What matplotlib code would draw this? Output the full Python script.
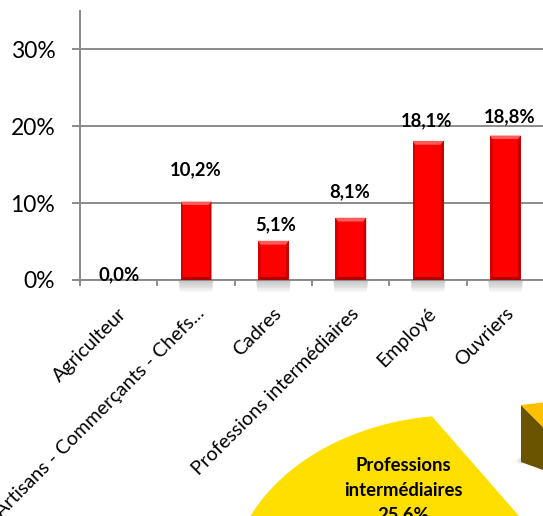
import matplotlib
matplotlib.use("Agg")
import matplotlib.pyplot as plt
from matplotlib.patches import Polygon, Ellipse
from matplotlib.transforms import ScaledTranslation
import numpy as np

# ---------------- data ----------------
categories = ["Agriculteur", "Artisans - Commerçants - Chefs...", "Cadres",
              "Professions intermédiaires", "Employé", "Ouvriers"]
values = [0.0, 10.2, 5.1, 8.1, 18.1, 18.8]
value_labels = ["0,0%", "10,2%", "5,1%", "8,1%", "18,1%", "18,8%"]
y_ticks = [0, 10, 20, 30]
y_tick_labels = ["0%", "10%", "20%", "30%"]
pie_label = "Professions\nintermédiaires\n25,6%"

# ---------------- layout / style ----------------
label_lift_pt = [3.6, 22.8, 11.3, 18.9, 14.6, 13.4]
label_dx_pt = [0, 0, 1.4, -0.7, -0.7, 2.9]

plt.rcParams['font.family'] = ['Lato', 'DejaVu Sans']

W, H = 543, 516
fig = plt.figure(figsize=(W / 100, H / 100), dpi=100)
fig.patch.set_facecolor("white")

# background overlay (the partially visible pie underneath)
bg = fig.add_axes([0, 0, 1, 1], zorder=0)
bg.set_xlim(0, W)
bg.set_ylim(H, 0)
bg.axis("off")

# yellow slice: elliptical top clipped by straight radial edge
P = np.array([431.7, 416.0])
d = np.array([85.0, 97.3])
n = np.array([-97.3, 85.0])
clip = Polygon([P - 10 * d, P + 10 * d, P + 10 * d + 10 * n, P - 10 * d + 10 * n],
               closed=True, transform=bg.transData, facecolor="none", edgecolor="none")
bg.add_patch(clip)
ell = Ellipse((460, 587), 460, 344, facecolor="#FFDF00", edgecolor="none")
bg.add_patch(ell)
ell.set_clip_path(clip)
bg.text(403, 490, pie_label, ha="center", va="center", fontsize=13.3,
        fontweight="bold", color="black", linespacing=1.52)

# right block (another exploded slice)
for k in range(4):
    bg.add_patch(Ellipse((523, 461), 14 - 2 * k, 7 - k, facecolor="#9a9a9a",
                         alpha=0.08, edgecolor="none"))
bg.add_patch(Polygon([(521, 405), (543, 427), (543, 470), (521, 462)],
                     closed=True, facecolor="#6B5400", edgecolor="none"))
bg.add_patch(Polygon([(521, 405), (543, 402.5), (543, 427)],
                     closed=True, facecolor="#FFC000", edgecolor="none"))

# main bar chart
x0_px, y0_px, ytop_px = 80, 280, 11
ax = fig.add_axes([x0_px / W, (H - y0_px) / H, (W - x0_px) / W + 0.002, (y0_px - ytop_px) / H],
                  zorder=1)
ax.set_facecolor("none")
x = np.arange(len(categories))
ax.set_xlim(-0.5, len(categories) - 0.5)
ax.set_ylim(0, 35)

grid_col = "#8A8A8A"
ax.set_axisbelow(True)
ax.yaxis.grid(True, color=grid_col, linewidth=1.4)
for s in ["top", "right"]:
    ax.spines[s].set_visible(False)
for s in ["left", "bottom"]:
    ax.spines[s].set_color(grid_col)
    ax.spines[s].set_linewidth(1.4)

ax.set_yticks(y_ticks)
ax.set_yticklabels(y_tick_labels, fontsize=16.5, color="black")
ax.tick_params(axis="y", length=5.8, width=1.4, color=grid_col, pad=12)

ax.set_xticks(x - 0.5, minor=False)
ax.set_xticklabels([])
ax.set_xticks([len(categories) - 0.5], minor=True)
ax.tick_params(axis="x", which="both", length=4.3, width=1.4, color=grid_col)

bw = 0.4
inset_x = 0.035
inset_y = 0.5
for xi, v in zip(x, values):
    if v <= 0:
        continue
    # shadow below axis
    for k in range(7):
        ax.bar(xi, -(k + 1) * 0.22, width=bw + 0.06 - k * 0.006, color="#7a7a7a",
               alpha=0.07, clip_on=False, zorder=1, linewidth=0)
    l, r = xi - bw / 2, xi + bw / 2
    il, ir = l + inset_x, r - inset_x
    top, itop, ibot = v, v - inset_y, inset_y * 0.8
    ax.add_patch(Polygon([(l, 0), (r, 0), (r, top), (l, top)], closed=True,
                         facecolor="#D80000", edgecolor="none", zorder=3))
    ax.add_patch(Polygon([(l, top), (r, top), (ir, itop), (il, itop)], closed=True,
                         facecolor="#FF5A5A", edgecolor="none", zorder=4))
    ax.add_patch(Polygon([(r, top), (r, 0), (ir, ibot), (ir, itop)], closed=True,
                         facecolor="#C40000", edgecolor="none", zorder=4))
    ax.add_patch(Polygon([(l, 0), (r, 0), (ir, ibot), (il, ibot)], closed=True,
                         facecolor="#B00000", edgecolor="none", zorder=4))
    ax.add_patch(Polygon([(il, itop), (ir, itop), (ir, ibot), (il, ibot)], closed=True,
                         facecolor="#FF0000", edgecolor="none", zorder=5))

for xi, v, lab, lift, dx in zip(x, values, value_labels, label_lift_pt, label_dx_pt):
    ax.annotate(lab, (xi, v), xytext=(dx, lift), textcoords="offset points",
                ha="center", va="center", fontsize=13.3, fontweight="bold",
                color="black", zorder=6, annotation_clip=False)

# rotated category labels
off = ScaledTranslation(6.5 / 72, -25 / 72, fig.dpi_scale_trans)
for xi, c in zip(x, categories):
    ax.text(xi, 0, c, transform=ax.get_xaxis_transform() + off, rotation=45,
            rotation_mode="anchor", ha="right", va="baseline", fontsize=14.1,
            color="black", clip_on=False)

fig.savefig("out.png", dpi=100, facecolor="white")
